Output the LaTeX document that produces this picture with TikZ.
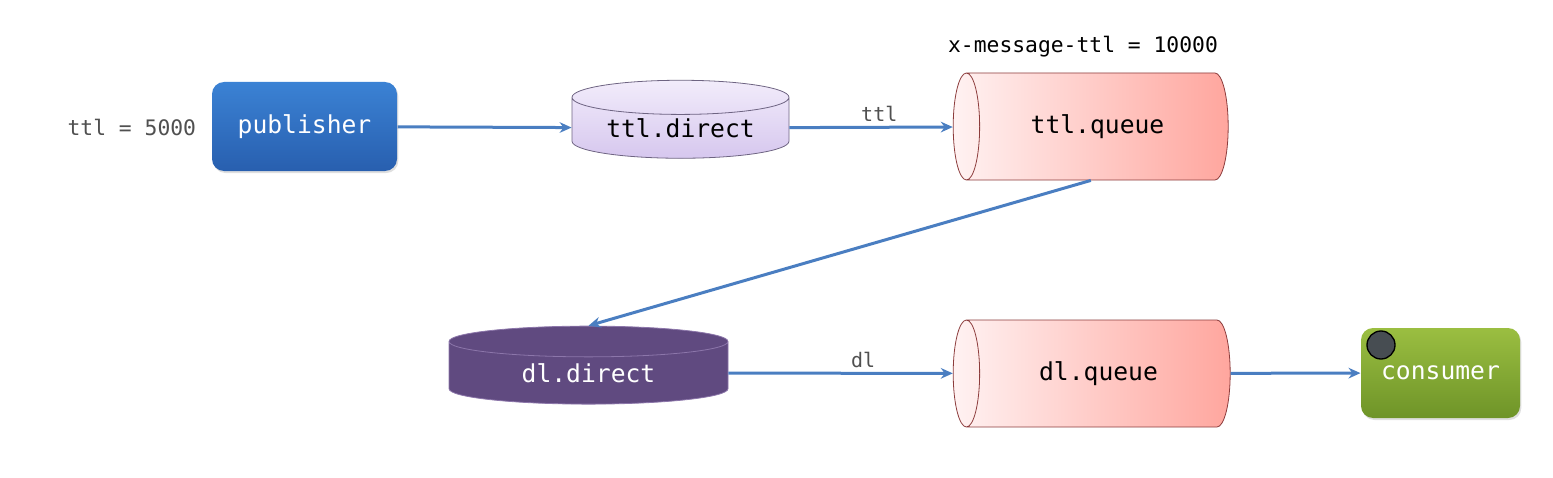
\documentclass[tikz,border=0pt]{standalone}
\usepackage{fontspec}
\setmonofont{DejaVu Sans Mono}
\usetikzlibrary{shapes.geometric,arrows.meta,shadows}

\definecolor{flowblue}{RGB}{74,126,193}
\definecolor{textgray}{RGB}{80,80,80}

\tikzset{every picture/.style={line width=0.75pt}}
\tikzset{
  flow/.style={draw=flowblue, line width=2.25pt, -{Stealth[length=9pt,width=8pt]}},
  lbl/.style={font=\ttfamily\fontsize{15}{17}\selectfont, text=textgray},
  clientbox/.style={rounded corners=9pt, inner sep=0pt, text=white,
    font=\ttfamily\fontsize{18.5}{20}\selectfont,
    drop shadow={opacity=0.25, shadow xshift=1pt, shadow yshift=-1.5pt}},
  exchange/.style={cylinder, shape border rotate=90, shape aspect=0.23, inner sep=0pt,
    font=\ttfamily\fontsize{18.5}{20}\selectfont},
  queuebox/.style={cylinder, shape border rotate=180, shape aspect=1.1, inner sep=0pt,
    draw={rgb,255:red,140;green,60;blue,60}, line width=0.6pt,
    left color={rgb,255:red,255;green,242;blue,242}, right color={rgb,255:red,255;green,166;blue,158},
    font=\ttfamily\fontsize{18.5}{20}\selectfont},
}

\begin{document}
\begin{tikzpicture}[x=0.75pt,y=0.75pt,yscale=-1,xscale=1]
\useasboundingbox (0,0) rectangle (1553,478);

%Shape: publisher
\node [clientbox, minimum width=138.75pt, minimum height=66.75pt,
  top color={rgb,255:red,59;green,130;blue,212}, bottom color={rgb,255:red,40;green,95;blue,175}]
  (publisher) at (304.5,126.5) {publisher};
%Shape: consumer
\node [clientbox, minimum width=119.25pt, minimum height=67.5pt,
  top color={rgb,255:red,155;green,190;blue,65}, bottom color={rgb,255:red,110;green,148;blue,40}]
  (consumer) at (1440.5,373) {consumer};
\node [circle, draw=black, line width=1pt, fill={rgb,255:red,71;green,77;blue,82},
  minimum size=21pt, inner sep=0pt] (dot) at (1381,345) {};

%Shape: exchanges
\node [exchange, minimum width=162.75pt, minimum height=58.5pt,
  draw={rgb,255:red,110;green,100;blue,130}, line width=0.6pt,
  top color={rgb,255:red,242;green,236;blue,251}, bottom color={rgb,255:red,214;green,199;blue,238}]
  (ttldirect) at (680.5,128) {ttl.direct};
\node [exchange, minimum width=209.25pt, minimum height=58.5pt,
  draw={rgb,255:red,140;green,118;blue,170}, line width=0.6pt,
  fill={rgb,255:red,96;green,74;blue,128}, text=white]
  (dldirect) at (588.5,373) {dl.direct};

%Shape: queues (width = diameter, height = length)
\node [queuebox, minimum width=80.25pt, minimum height=206.25pt] (ttlqueue) at (1097.5,126.5) {ttl.queue};
\node [queuebox, minimum width=80.25pt, minimum height=207.75pt] (dlqueue) at (1098.5,373.5) {dl.queue};

% Text Node
\node [lbl, font=\ttfamily\fontsize{16}{18}\selectfont, anchor=east] (pubttl) at (201,127) {ttl = 5000};
% Text Node
\node [lbl, font=\ttfamily\fontsize{16}{18}\selectfont, text=black] (qttl) at (1083,47) {x-message-ttl = 10000};

% Connectors
\draw [flow] (publisher) -- (ttldirect);
\draw [flow] (ttldirect) -- node [lbl, above, pos=0.55] (ttlkey) {ttl} (ttlqueue);
\draw [flow] ([xshift=-5pt]ttlqueue.south) -- (dldirect.north);
\draw [flow] (dldirect) -- node [lbl, above, pos=0.6] (dlkey) {dl} (dlqueue);
\draw [flow] (dlqueue) -- (consumer);

\end{tikzpicture}
\end{document}
